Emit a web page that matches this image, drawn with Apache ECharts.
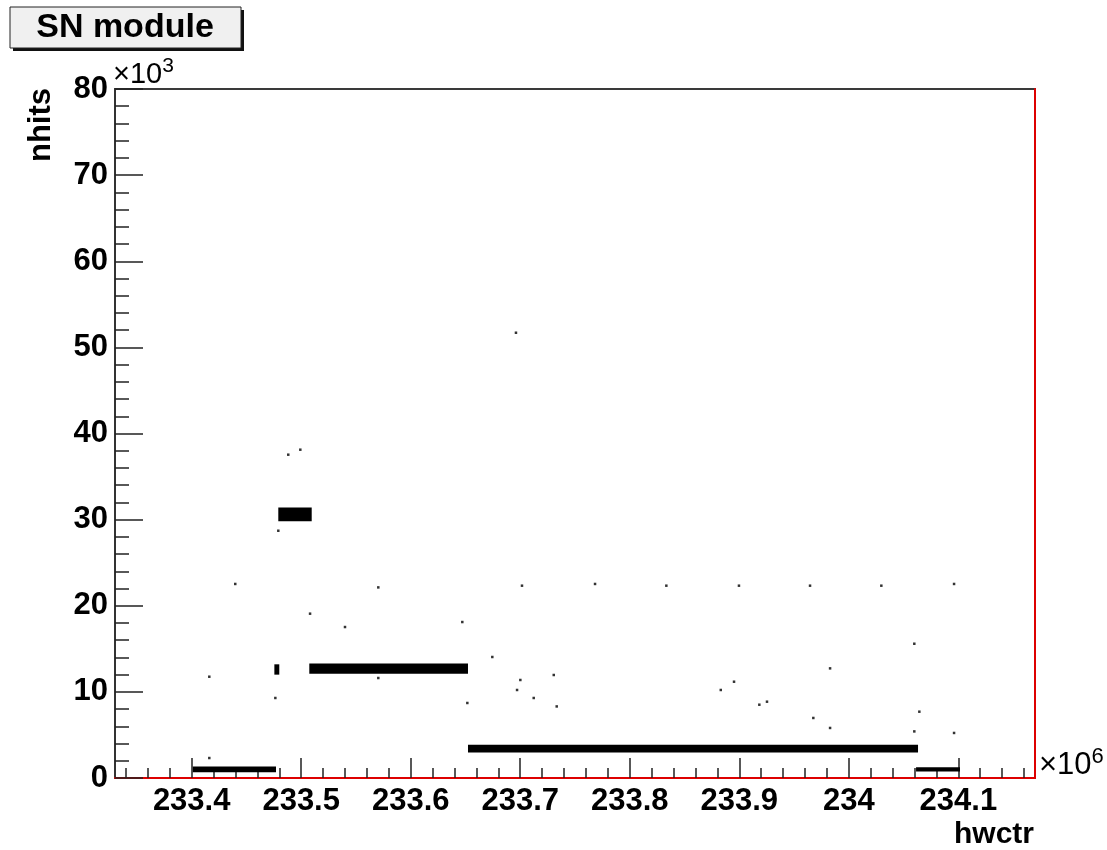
<!DOCTYPE html>
<html>
<head>
<meta charset="utf-8">
<script src="https://cdn.jsdelivr.net/npm/echarts@6/dist/echarts.min.js"></script>
<style>
html,body{margin:0;padding:0;background:#fff;}
#chart{width:1107px;height:850px;}
</style>
</head>
<body>
<div id="chart"></div>
<script>
// x in units of 10^6 (hwctr), y in units of 10^3 (nhits)
var xMajorTicks = [233.4, 233.5, 233.6, 233.7, 233.8, 233.9, 234.0, 234.1];
var xMinorTicks = [233.34, 233.36, 233.38, 233.42, 233.44, 233.46, 233.48, 233.52, 233.54, 233.56, 233.58,
  233.62, 233.64, 233.66, 233.68, 233.72, 233.74, 233.76, 233.78, 233.82, 233.84, 233.86, 233.88,
  233.92, 233.94, 233.96, 233.98, 234.02, 234.04, 234.06, 234.08, 234.12, 234.14, 234.16];
var yTicks = [0, 10, 20, 30, 40, 50, 60, 70, 80];

// dense clusters of hits: [xStart, xEnd, yLow, yHigh]
var bandXStart = [233.401, 233.4755, 233.4791, 233.5074, 233.6523, 234.0614];
var bandXEnd   = [233.477, 233.4800, 233.5096, 233.6523, 234.0632, 234.1015];
var bandYLow   = [0.68, 12.0, 29.8, 12.1, 2.97, 0.75];
var bandYHigh  = [1.34, 13.2, 31.4, 13.3, 3.87, 1.25];

// isolated hits
var strayX = [233.4398, 233.4161, 233.4161, 233.4764, 233.4791, 233.4882, 233.4992, 233.5081, 233.5400,
  233.5704, 233.5704, 233.6471, 233.6517, 233.6745, 233.6961, 233.7016, 233.7001, 233.6971, 233.7123,
  233.7306, 233.7333, 233.7683, 233.8334, 233.8831, 233.8952, 233.8997, 233.9183, 233.9253, 233.9646,
  233.9676, 233.9829, 233.9829, 234.0297, 234.0598, 234.0644, 234.0598, 234.0961, 234.0961];
var strayY = [22.53, 11.76, 2.32, 9.29, 28.71, 37.54, 38.12, 19.08, 17.53,
  22.13, 11.61, 18.11, 8.71, 14.05, 51.70, 22.33, 11.38, 10.22, 9.29,
  11.96, 8.31, 22.53, 22.33, 10.22, 11.18, 22.33, 8.51, 8.86, 22.33,
  6.97, 12.73, 5.81, 22.33, 15.59, 7.70, 5.41, 5.23, 22.53];

var bandData = bandXStart.map(function (x0, i) {
  return [x0, bandXEnd[i], bandYLow[i], bandYHigh[i]];
});
var strayData = strayX.map(function (x, i) { return [x, strayY[i]]; });

var FONT = '"Liberation Sans", Arial, Helvetica, sans-serif';
var chart = echarts.init(document.getElementById('chart'));
chart.setOption({
  animation: false,
  backgroundColor: '#fff',
  grid: { left: 115, right: 72, top: 89, bottom: 72, show: true, borderColor: '#3a3a3a', borderWidth: 2, backgroundColor: 'transparent' },
  xAxis: [{
    type: 'value', min: 233.33, max: 234.17,
    axisLine: { show: true, onZero: false, lineStyle: { color: '#dd0000', width: 2 } },
    axisTick: { show: true, inside: true, length: 20, customValues: xMajorTicks, lineStyle: { color: '#222', width: 1.5 } },
    axisLabel: { show: true, customValues: xMajorTicks, margin: 8, color: '#000', fontSize: 31, fontWeight: 'bold', fontFamily: FONT,
      formatter: function (v) { return String(+v.toFixed(1)); } },
    splitLine: { show: false }
  }, {
    type: 'value', min: 233.33, max: 234.17, position: 'bottom',
    axisLine: { show: false },
    axisTick: { show: true, inside: true, length: 10, customValues: xMinorTicks, lineStyle: { color: '#222', width: 1.5 } },
    axisLabel: { show: false },
    splitLine: { show: false }
  }],
  yAxis: [{
    type: 'value', min: 0, max: 80, interval: 10,
    axisLine: { show: true, onZero: false, lineStyle: { color: '#333', width: 2 } },
    axisTick: { show: true, inside: true, length: 28, lineStyle: { color: '#222', width: 1.5 } },
    minorTick: { show: true, splitNumber: 5, length: 14, lineStyle: { color: '#222', width: 1.5 } },
    axisLabel: { margin: 7, color: '#000', fontSize: 31, fontWeight: 'bold', fontFamily: FONT },
    splitLine: { show: false }
  }, {
    type: 'value', min: 0, max: 80, position: 'right',
    axisLine: { show: true, onZero: false, lineStyle: { color: '#dd0000', width: 2 } },
    axisTick: { show: false }, axisLabel: { show: false }, splitLine: { show: false }
  }],
  series: [{
    type: 'custom',
    xAxisIndex: 0, yAxisIndex: 0,
    data: bandData,
    encode: { x: [0, 1], y: [2, 3] },
    renderItem: function (params, api) {
      var p0 = api.coord([api.value(0), api.value(3)]);
      var p1 = api.coord([api.value(1), api.value(2)]);
      return {
        type: 'rect',
        shape: { x: p0[0], y: p0[1], width: Math.max(p1[0] - p0[0], 2), height: Math.max(p1[1] - p0[1], 2) },
        style: { fill: '#000' }
      };
    },
    z: 3
  }, {
    type: 'scatter',
    xAxisIndex: 0, yAxisIndex: 0,
    data: strayData,
    symbol: 'rect',
    symbolSize: 2.5,
    itemStyle: { color: '#000' },
    z: 4
  }],
  graphic: [
    { type: 'rect', shape: { x: 13, y: 10, width: 231, height: 41 }, style: { fill: '#111' }, z: 10 },
    { type: 'rect', shape: { x: 10, y: 7, width: 231, height: 41 }, style: { fill: '#f0f0f0', stroke: '#222', lineWidth: 1 }, z: 11 },
    { type: 'text', x: 125, y: 28, z: 12, style: { text: 'SN module', fontSize: 34, fontWeight: 'bold', fontFamily: FONT, fill: '#000', align: 'center', verticalAlign: 'middle' } },
    { type: 'text', x: 113, y: 93, z: 12, style: {
      text: '{a|×10}{b|3}', verticalAlign: 'bottom', fill: '#000',
      rich: { a: { fontSize: 29, fontFamily: FONT, fill: '#000' }, b: { fontSize: 21, fontFamily: FONT, fill: '#000', padding: [0, 0, 16, 0] } } } },
    { type: 'text', x: 1039, y: 785, z: 12, style: {
      text: '{a|×10}{b|6}', verticalAlign: 'bottom', fill: '#000',
      rich: { a: { fontSize: 31, fontFamily: FONT, fill: '#000' }, b: { fontSize: 22, fontFamily: FONT, fill: '#000', padding: [0, 0, 17, 0] } } } },
    { type: 'text', x: 41, y: 125, rotation: Math.PI / 2, z: 12, style: { text: 'nhits', fontSize: 31, fontWeight: 'bold', fontFamily: FONT, fill: '#000', align: 'center', verticalAlign: 'middle' } },
    { type: 'text', x: 1034, y: 835, z: 12, style: { text: 'hwctr', fontSize: 30, fontWeight: 'bold', fontFamily: FONT, fill: '#000', align: 'right', verticalAlign: 'middle' } }
  ]
});
</script>
</body>
</html>
